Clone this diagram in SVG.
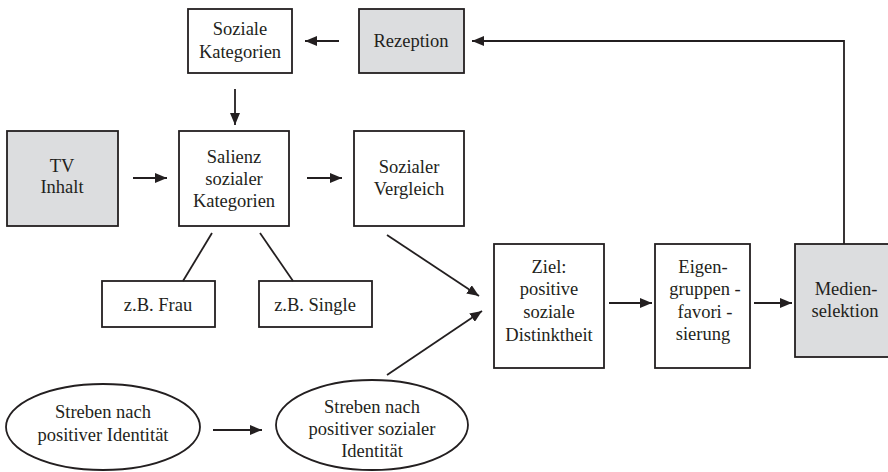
<svg xmlns="http://www.w3.org/2000/svg" width="888" height="472" viewBox="0 0 888 472">
<defs>
<marker id="ah" viewBox="0 0 12 10" refX="12" refY="5" markerWidth="12" markerHeight="10" markerUnits="userSpaceOnUse" orient="auto">
<path d="M0,0 L12,5 L0,10 z" fill="#231f20"/>
</marker>
<style>
.t{font-family:'Liberation Serif',serif;font-size:18.5px;fill:#231f20;text-anchor:middle}
.b{fill:#fff;stroke:#231f20;stroke-width:1.8}
.g{fill:#dcdddf;stroke:#231f20;stroke-width:1.8}
.c{fill:none;stroke:#231f20;stroke-width:1.8}
.a{fill:none;stroke:#231f20;stroke-width:1.8;marker-end:url(#ah)}
</style>
</defs>
<rect width="888" height="472" fill="#fff"/>
<g id="soziale-kategorien"><rect class="b" x="188" y="9" width="104" height="64"/><text class="t" x="240" y="35">Soziale</text><text class="t" x="240" y="58">Kategorien</text></g>
<g id="rezeption"><rect class="g" x="359" y="9" width="105" height="64"/><text class="t" x="411" y="47">Rezeption</text></g>
<g id="tv-inhalt"><rect class="g" x="7" y="131" width="111" height="95"/><text class="t" x="62" y="172">TV</text><text class="t" x="62" y="193">Inhalt</text></g>
<g id="salienz"><rect class="b" x="179" y="131" width="110" height="95"/><text class="t" x="234" y="163">Salienz</text><text class="t" x="234" y="185">sozialer</text><text class="t" x="234" y="207">Kategorien</text></g>
<g id="sozialer-vergleich"><rect class="b" x="354" y="131" width="110" height="95"/><text class="t" x="409" y="173">Sozialer</text><text class="t" x="409" y="195">Vergleich</text></g>
<g id="frau"><rect class="b" x="102" y="281" width="113" height="46"/><text class="t" x="158" y="311">z.B. Frau</text></g>
<g id="single"><rect class="b" x="259" y="281" width="113" height="46"/><text class="t" x="315" y="311">z.B. Single</text></g>
<g id="ziel"><rect class="b" x="494" y="244" width="110" height="124"/><text class="t" x="549" y="273">Ziel:</text><text class="t" x="549" y="295">positive</text><text class="t" x="549" y="318">soziale</text><text class="t" x="549" y="341">Distinktheit</text></g>
<g id="eigengruppen"><rect class="b" x="655" y="244" width="95" height="124"/><text class="t" x="703" y="273">Eigen-</text><text class="t" x="705" y="295">gruppen -</text><text class="t" x="705" y="318">favori -</text><text class="t" x="703" y="340">sierung</text></g>
<g id="medienselektion"><rect class="g" x="795" y="244" width="100" height="113"/><text class="t" x="846" y="295">Medien-</text><text class="t" x="845" y="317">selektion</text></g>
<g id="streben-identitaet"><ellipse class="b" cx="103" cy="427" rx="97" ry="43"/><text class="t" x="103" y="418">Streben nach</text><text class="t" x="103" y="441">positiver Identit&#228;t</text></g>
<g id="streben-sozial"><ellipse class="b" cx="372" cy="425" rx="96" ry="45"/><text class="t" x="372" y="413">Streben nach</text><text class="t" x="372" y="435">positiver sozialer</text><text class="t" x="372" y="457">Identit&#228;t</text></g>
<g id="connectors">
<line class="a" x1="339" y1="41" x2="305" y2="41"/>
<line class="a" x1="235" y1="89" x2="235" y2="125"/>
<line class="a" x1="133" y1="178" x2="167" y2="178"/>
<line class="a" x1="307" y1="178" x2="342" y2="178"/>
<line class="c" x1="212" y1="233" x2="183" y2="281"/>
<line class="c" x1="260" y1="233" x2="293" y2="281"/>
<line class="a" x1="387" y1="235" x2="479" y2="296"/>
<line class="a" x1="387" y1="375" x2="482" y2="311"/>
<line class="a" x1="609" y1="303" x2="652" y2="303"/>
<line class="a" x1="754" y1="303" x2="792" y2="303"/>
<line class="a" x1="213" y1="430" x2="262" y2="430"/>
<polyline class="a" points="844,244 844,41 472,41"/>
</g>
</svg>
